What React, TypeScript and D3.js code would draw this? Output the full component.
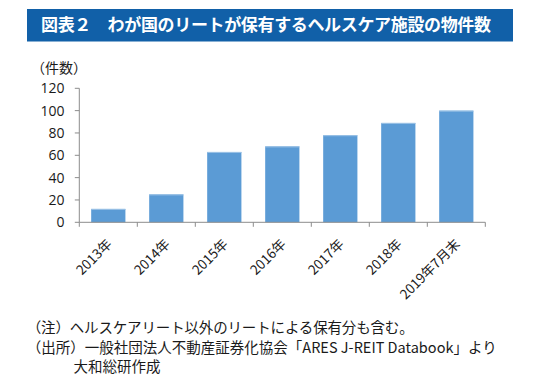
import React from "react";
import * as d3 from "d3";

const categories = ["2013年", "2014年", "2015年", "2016年", "2017年", "2018年", "2019年7月末"];
const values = [12, 25, 63, 68, 78, 89, 100];
const yTicks = [0, 20, 40, 60, 80, 100, 120];
const title = "図表２　わが国のリートが保有するヘルスケア施設の物件数";
const unitLabel = "（件数）";
const note1 = "（注）ヘルスケアリート以外のリートによる保有分も含む。";
const note2 = "（出所）一般社団法人不動産証券化協会「ARES J-REIT Databook」より";
const note3 = "大和総研作成";

const W = 537;
const H = 382;
const JP = "'Noto Sans CJK JP', 'Noto Sans', sans-serif";

export default function App() {
  const x0 = 79.3, x1 = 485.3, yTop = 88.3, yBot = 222.3;
  const x = d3.scaleBand<string>().domain(categories).range([x0, x1]).paddingInner(0.41).paddingOuter(0.205);
  const y = d3.scaleLinear().domain([0, 120]).range([yBot, yTop]);
  const step = (x1 - x0) / categories.length;
  const axisColor = "#8c8c8c";
  return (
    <svg width={W} height={H} style={{ position: "absolute", left: 0, top: 0 }}>
      <rect x={0} y={0} width={W} height={H} fill="#fff" />
      <rect x={27} y={9} width={486} height={32.5} fill="#1160a8" />
      <text x={41} y={31} fill="#fff" fontFamily={JP} fontWeight="bold" fontSize={17} textLength={450} lengthAdjust="spacing">{title}</text>
      <text x={31} y={73} fontFamily={JP} fontSize={14} fill="#1a1a1a">{unitLabel}</text>
      {yTicks.map((t) => (
        <g key={t}>
          <line x1={x0 - 4.5} x2={x0} y1={y(t)} y2={y(t)} stroke={axisColor} strokeWidth={1} />
          <text x={64.5} y={y(t) + 5} textAnchor="end" fontFamily="'Open Sans', sans-serif" fontSize={14} fill="#1a1a1a">{t}</text>
        </g>
      ))}
      {values.map((v, i) => (
        <g key={i}>
          <rect x={x(categories[i])} y={y(v)} width={x.bandwidth()} height={yBot - y(v)} fill="#5b9bd5" />
          <line x1={x(categories[i])} x2={(x(categories[i]) as number) + x.bandwidth()} y1={y(v) + 0.5} y2={y(v) + 0.5} stroke="#9dc3e6" strokeWidth={1} />
        </g>
      ))}
      <line x1={x0} x2={x0} y1={yTop} y2={yBot} stroke={axisColor} strokeWidth={1} />
      <line x1={x0} x2={x1} y1={yBot} y2={yBot} stroke={axisColor} strokeWidth={1} />
      {d3.range(categories.length + 1).map((i) => (
        <line key={i} x1={x0 + i * step} x2={x0 + i * step} y1={yBot} y2={yBot + 4.5} stroke={axisColor} strokeWidth={1} />
      ))}
      {categories.map((c) => {
        const cx = (x(c) as number) + x.bandwidth() / 2;
        const ax = cx + 4.5, ay = 245;
        return (
          <text key={c} x={ax} y={ay} transform={`rotate(-45 ${ax} ${ay})`} textAnchor="end" fontFamily={JP} fontSize={13.5} fill="#1a1a1a">{c}</text>
        );
      })}
      <text x={26.7} y={333} fontFamily={JP} fontSize={14.5} fill="#1a1a1a" textLength={387} lengthAdjust="spacing">{note1}</text>
      <text x={26.7} y={353} fontFamily={JP} fontSize={14.5} fill="#1a1a1a" textLength={470} lengthAdjust="spacing">{note2}</text>
      <text x={73.6} y={372} fontFamily={JP} fontSize={14.5} fill="#1a1a1a">{note3}</text>
    </svg>
  );
}
